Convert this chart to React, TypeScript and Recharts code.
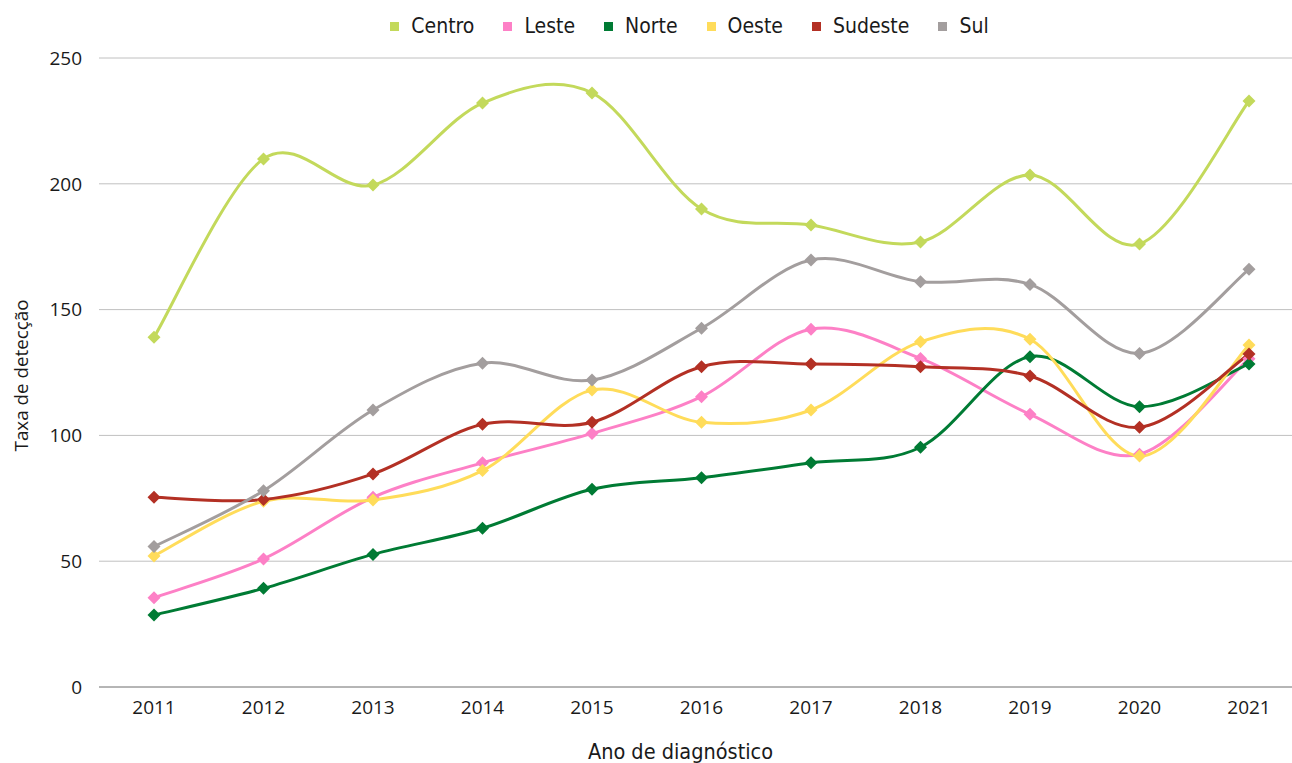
import React from 'react';
import { LineChart, Line, XAxis, YAxis, CartesianGrid, Legend } from 'recharts';

const years = ['2011', '2012', '2013', '2014', '2015', '2016', '2017', '2018', '2019', '2020', '2021'];
const centro = [139.0, 209.9, 199.5, 232.1, 236.1, 190.0, 183.6, 176.9, 203.5, 176.1, 232.9];
const leste = [35.5, 50.9, 75.4, 89.1, 100.8, 115.4, 142.2, 130.6, 108.4, 92.5, 130.5];
const norte = [28.6, 39.2, 52.7, 63.1, 78.6, 83.2, 89.1, 95.3, 131.3, 111.4, 128.4];
const oeste = [52.1, 73.8, 74.3, 86.0, 118.0, 105.2, 110.1, 137.2, 138.2, 91.8, 135.9];
const sudeste = [75.4, 74.5, 84.7, 104.4, 105.2, 127.3, 128.4, 127.3, 123.6, 103.2, 132.4];
const sul = [55.8, 78.0, 110.1, 128.7, 122.0, 142.6, 169.7, 161.1, 160.0, 132.6, 166.0];
const yTicks = [0, 50, 100, 150, 200, 250];

const series = [
  { key: 'Centro', values: centro, color: '#c3d95b' },
  { key: 'Leste', values: leste, color: '#fd80c6' },
  { key: 'Norte', values: norte, color: '#007b34' },
  { key: 'Oeste', values: oeste, color: '#ffdc5a' },
  { key: 'Sudeste', values: sudeste, color: '#b33024' },
  { key: 'Sul', values: sul, color: '#a39e9e' },
];

const data = years.map((year, i) => {
  const row: Record<string, string | number> = { year };
  series.forEach((s) => {
    row[s.key] = s.values[i];
  });
  return row;
});

// Excel-like smoothed line (Catmull-Rom through the points)
const smoothCurve = (context: any) => {
  let pts: number[][] = [];
  return {
    areaStart() {},
    areaEnd() {},
    lineStart() {
      pts = [];
    },
    point(x: number, y: number) {
      pts.push([+x, +y]);
    },
    lineEnd() {
      if (!pts.length) return;
      context.moveTo(pts[0][0], pts[0][1]);
      for (let i = 0; i < pts.length - 1; i++) {
        const p0 = pts[i - 1] || pts[i];
        const p1 = pts[i];
        const p2 = pts[i + 1];
        const p3 = pts[i + 2] || p2;
        context.bezierCurveTo(
          p1[0] + (p2[0] - p0[0]) / 6,
          p1[1] + (p2[1] - p0[1]) / 6,
          p2[0] - (p3[0] - p1[0]) / 6,
          p2[1] - (p3[1] - p1[1]) / 6,
          p2[0],
          p2[1],
        );
      }
    },
  };
};

const Diamond = (color: string) => (props: any) => {
  const { cx, cy, index } = props;
  if (cx == null || cy == null) return <g key={`d-${index}`} />;
  const r = 6.5;
  return (
    <polygon
      key={`d-${index}`}
      points={`${cx},${cy - r} ${cx + r},${cy} ${cx},${cy + r} ${cx - r},${cy}`}
      fill={color}
      stroke="none"
    />
  );
};

const LegendContent = () => (
  <div
    style={{
      display: 'flex',
      justifyContent: 'center',
      alignItems: 'center',
      height: 36,
      fontFamily: "'DejaVu Sans Condensed', 'Noto Sans', sans-serif",
      fontSize: 21,
      color: '#1a1a1a',
    }}
  >
    {series.map((s) => (
      <div key={s.key} style={{ display: 'flex', alignItems: 'center', marginRight: 29 }}>
        <span style={{ width: 9, height: 9, background: s.color, marginRight: 12, display: 'inline-block' }} />
        <span>{s.key}</span>
      </div>
    ))}
  </div>
);

const tickStyle = { fontSize: 19, fill: '#1a1a1a', fontFamily: "'Open Sans', sans-serif" };

export default function App() {
  return (
    <div style={{ position: 'fixed', left: 0, top: 0, width: 1292, height: 763, overflow: 'hidden', background: '#fff' }}>
      <LineChart width={1320} height={763} data={data} margin={{ top: 22, right: 16, bottom: 0, left: 0 }}>
        <CartesianGrid vertical={false} stroke="#c0c0c0" strokeWidth={1} />
        <XAxis
          dataKey="year"
          height={76}
          padding={{ left: 55, right: 55 }}
          tickLine={false}
          tickMargin={8}
          axisLine={{ stroke: '#8c8c8c', strokeWidth: 1.2 }}
          tick={tickStyle}
          interval={0}
          label={{
            content: (p: any) => {
              const vb = p.viewBox;
              return (
                <text
                  x={vb.x + vb.width / 2 - 21}
                  y={vb.y + 72}
                  textAnchor="middle"
                  fontSize={21.5}
                  fill="#1a1a1a"
                  fontFamily="'DejaVu Sans Condensed', 'Noto Sans', sans-serif"
                >
                  Ano de diagnóstico
                </text>
              );
            },
          }}
        />
        <YAxis
          width={99}
          domain={[0, 250]}
          ticks={yTicks}
          axisLine={false}
          tickLine={false}
          tickMargin={11}
          tick={tickStyle}
          label={{
            content: (p: any) => {
              const vb = p.viewBox;
              const cy = vb.y + vb.height / 2 + 3;
              return (
                <text
                  x={28}
                  y={cy}
                  transform={`rotate(-90, 28, ${cy})`}
                  textAnchor="middle"
                  fontSize={18.8}
                  fill="#1a1a1a"
                  fontFamily="'Open Sans', sans-serif"
                >
                  Taxa de detecção
                </text>
              );
            },
          }}
        />
        <Legend
          verticalAlign="top"
          content={<LegendContent />}
          wrapperStyle={{ top: 8, left: 0, width: 1408 }}
        />
        {series.map((s) => (
          <Line
            key={s.key}
            dataKey={s.key}
            type={smoothCurve as any}
            stroke={s.color}
            strokeWidth={3}
            dot={Diamond(s.color)}
            activeDot={false}
            isAnimationActive={false}
          />
        ))}
      </LineChart>
    </div>
  );
}
